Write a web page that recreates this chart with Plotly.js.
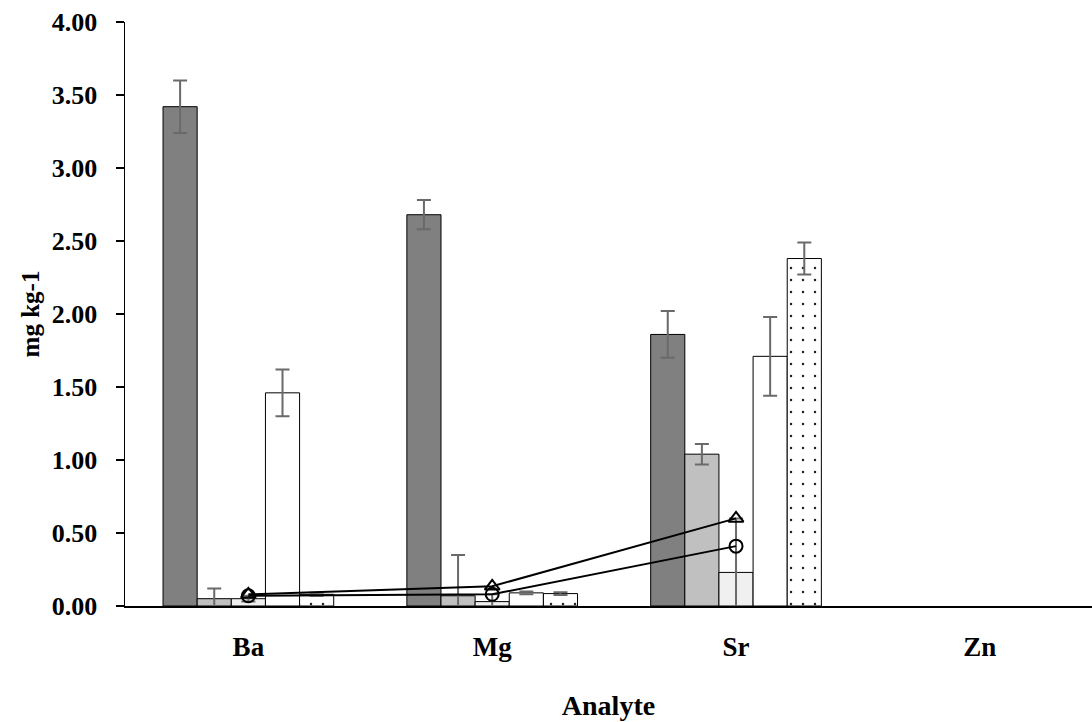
<!DOCTYPE html>
<html><head><meta charset="utf-8">
<script src="https://cdn.plot.ly/plotly-3.0.1.min.js"></script>
<style>body{margin:0;background:#fff}#chart{width:1092px;height:722px}</style>
</head><body><div id="chart"></div>
<script>
var categories = ['Ba', 'Mg', 'Sr', 'Zn'];
var s1 = [3.42, 2.68, 1.86, 0];
var s1err = [0.18, 0.10, 0.16, 0];
var s2 = [0.05, 0.07, 1.04, 0];
var s2err = [0.07, 0.28, 0.07, 0];
var s3 = [0.05, 0.03, 0.23, 0];
var s3err = [0.02, 0.05, 0.37, 0];
var s4 = [1.46, 0.09, 1.71, 0];
var s4err = [0.16, 0.01, 0.27, 0];
var s5 = [0.08, 0.085, 2.38, 0];
var s5err = [0.01, 0.01, 0.11, 0];
var lineCats = ['Ba', 'Mg', 'Sr'];
var triVals = [0.08, 0.135, 0.60];
var circVals = [0.07, 0.08, 0.41];

// zero values are not drawn at all (no outline, no error cap)
function nz(arr){ return arr.map(function(v){ return v > 0 ? v : null; }); }
function bar(y, err, color, pattern){
  var m = {color: color, line: {color:'#000', width:1}};
  if (pattern) m.pattern = pattern;
  return {type:'bar', x:categories, y:nz(y), marker:m,
          error_y:{type:'data', array:err, visible:true, color:'#6a6a6a', thickness:2, width:7},
          hoverinfo:'y'};
}
var traces = [
  bar(s1, s1err, '#808080'),
  bar(s2, s2err, '#c0c0c0'),
  bar(s3, s3err, '#f0f0f0'),
  bar(s4, s4err, '#ffffff'),
  bar(s5, s5err, '#ffffff', {shape:'.', bgcolor:'#ffffff', fgcolor:'#222222', size:12, solidity:0.035}),
  {type:'scatter', mode:'lines+markers', x:lineCats, y:triVals,
   line:{color:'#000', width:2}, marker:{symbol:'triangle-up-open', size:13, color:'#000', line:{width:2, color:'#000'}}},
  {type:'scatter', mode:'lines+markers', x:lineCats, y:circVals,
   line:{color:'#000', width:2}, marker:{symbol:'circle-open', size:13, color:'#000', line:{width:2, color:'#000'}}}
];
var fam = '"Liberation Serif", "Times New Roman", serif';
var layout = {
  width:1092, height:722,
  margin:{l:125, r:0, t:22, b:116},
  paper_bgcolor:'#fff', plot_bgcolor:'#fff',
  showlegend:false,
  barmode:'group', bargap:0.30, bargroupgap:0,
  font: {family:fam, color:'#000'},
  xaxis:{
    type:'category', range:[-0.506, 3.46],
    showline:true, linecolor:'#000', linewidth:1.5, ticks:'', showgrid:false, zeroline:false,
    tickfont:{family:fam, size:27, color:'#000', weight:'bold'},
    ticklabelstandoff:16,
    title:{text:'<b>Analyte</b>', font:{family:fam, size:28, color:'#000'}, standoff:34}
  },
  yaxis:{
    range:[0, 4], dtick:0.5, tickformat:'.2f',
    showline:true, linecolor:'#000', linewidth:1.5, ticks:'outside', ticklen:8, tickcolor:'#000', tickwidth:1.5,
    showgrid:false, zeroline:false,
    tickfont:{family:fam, size:26, color:'#000', weight:'bold'},
    ticklabelstandoff:13,
    title:{text:'<b>mg kg-1</b>', font:{family:fam, size:25, color:'#000'}, standoff:5}
  }
};
Plotly.newPlot('chart', traces, layout, {displayModeBar:false, staticPlot:true});
</script></body></html>
